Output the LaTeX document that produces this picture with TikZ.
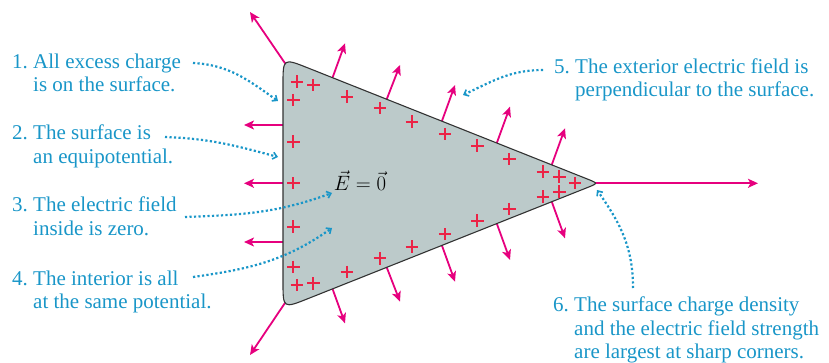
\documentclass[tikz,border=0pt]{standalone}
\usepackage{fontspec}
\setmainfont{Liberation Serif}
\usepackage{tikz}
\usetikzlibrary{arrows.meta}

\definecolor{fieldpink}{RGB}{230,0,126}
\definecolor{chargered}{RGB}{235,35,70}
\definecolor{notecyan}{RGB}{25,150,200}
\definecolor{condgray}{RGB}{188,202,202}

\newcommand{\numnote}[2]{\begin{tabular}[t]{@{}l@{}l@{}}#1.\ \mbox{} & #2\end{tabular}}

\tikzset{
  field/.style={fieldpink, line width=1.8pt, -{Stealth[length=10pt,width=9pt,inset=2.5pt]}},
  note/.style={notecyan, anchor=base west, inner sep=0pt, font=\fontsize{21}{23.5}\selectfont},
  callout/.style={notecyan, line width=2.2pt, dash pattern=on 2.2pt off 2.3pt,
    -{Straight Barb[length=4pt,width=7pt,line width=1.6pt]}},
  plus/.pic={\draw[chargered, line width=1.9pt] (-6.2,0) -- (6.2,0) (0,-6.2) -- (0,6.2);}
}

\begin{document}
\begin{tikzpicture}[x=1pt,y=-1pt]

        \useasboundingbox (0,0) rectangle (829,363);

        %=====================
        % Field lines
        %=====================
        \foreach \a/\b/\c/\d in {291/72/250/12, 291/294/250/355,
            283/125/244/125, 283/183.3/244/183.3, 283/242/244/242,
            331.7/80/345/43.3, 386.7/99.3/400/65, 441.7/121.7/455/85,
            496.7/143.3/510/106.7, 551.7/165/565/128.3,
            331.7/286.6/345/323.3, 386.7/267.3/400/301.6, 441.7/244.9/455/281.6,
            496.7/223.3/510/259.9, 551.7/201.6/565/238.3,
            592/183.3/758/183.3}
        \draw[field] (\a,\b) -- (\c,\d);

        %=====================
        % Conductor
        %=====================
        \draw[fill=condgray, draw=black!80, line width=1.1pt]
        (283,85) .. controls (283,58) .. (308.1,68)
        -- (587.8,179.2) .. controls (598,183.3) .. (587.8,187.4)
        -- (308.1,298.6) .. controls (283,308.6) .. (283,281.6) -- cycle;

        %=====================
        % Surface charges
        %=====================
        \foreach \x/\y in {296.7/81.7, 313.3/85, 293.3/100, 293.3/141.7,
            293.3/183.3, 293.3/226.7, 293.3/266.7, 296.7/285, 313.3/283.3,
            346.7/96.7, 380/108.3, 411.7/121.7, 445/134, 477.3/145.7, 509.3/159.3,
            542.7/171.7, 559.3/176.7, 575/183.3, 559.3/191.7, 542.7/196.7,
            346.7/271.7, 380/258.3, 411.7/246.7, 445/234.3, 477.3/220.7, 509.3/209}
        \pic at (\x,\y) {plus};

        \node[anchor=base, inner sep=0pt, font=\fontsize{21}{23.5}\selectfont]
        (efield) at (360,190.7) {$\vec{E}=\vec{0}$};

        %=====================
        % Notes
        %=====================
        \node[note] (note1) at (12,68.3) {\numnote{1}{All excess charge\\ & is on the surface.}};
        \node[note] (note2) at (12,140) {\numnote{2}{The surface is\\ & an equipotential.}};
        \node[note] (note3) at (12,211.7) {\numnote{3}{The electric field\\ & inside is zero.}};
        \node[note] (note4) at (12,285) {\numnote{4}{The interior is all\\ & at the same potential.}};
        \node[note] (note5) at (554,73.3) {\numnote{5}{The exterior electric field is\\ & perpendicular to the surface.}};
        \node[note] (note6) at (553,311.7) {\numnote{6}{The surface charge density\\ & and the electric field strength\\ & are largest at sharp corners.}};

        %=====================
        % Callouts
        %=====================
        \coordinate (from1) at (193,63);    \coordinate (to1) at (278,101);
        \coordinate (from2) at (165,137);   \coordinate (to2) at (278,157);
        \coordinate (from3) at (185,217);   \coordinate (to3) at (332,193);
        \coordinate (from4) at (193,277);   \coordinate (to4) at (332,228);
        \coordinate (from5) at (543,70);    \coordinate (to5) at (463,95);
        \coordinate (from6) at (633,288);   \coordinate (to6) at (597,190);

        \draw[callout] (from1) to[out=-3,in=145] (to1);
        \draw[callout] (from2) to[out=-2,in=165] (to2);
        \draw[callout] (from3) to[out=2,in=200] (to3);
        \draw[callout] (from4) to[out=8,in=215] (to4);
        \draw[callout] (from5) to[out=180,in=25] (to5);
        \draw[callout] (from6) to[out=90,in=-55] (to6);

    \end{tikzpicture}
\end{document}
